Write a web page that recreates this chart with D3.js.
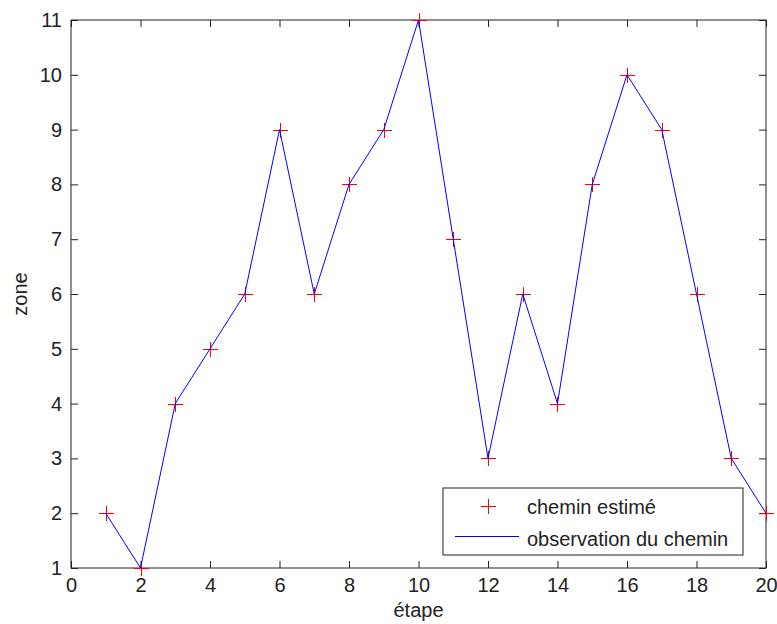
<!DOCTYPE html>
<html><head><meta charset="utf-8">
<script src="https://cdn.jsdelivr.net/npm/d3@7"></script>
<style>body{margin:0;background:#fff}svg{display:block}text{font-family:"Liberation Sans",Arial,sans-serif;fill:#222}</style>
</head><body><svg id="c" width="777" height="624"></svg>
<script>
const steps = [1,2,3,4,5,6,7,8,9,10,11,12,13,14,15,16,17,18,19,20];
const zones = [2,1,4,5,6,9,6,8,9,11,7,3,6,4,8,10,9,6,3,2];
const xTicks = [0,2,4,6,8,10,12,14,16,18,20];
const yTicks = [1,2,3,4,5,6,7,8,9,10,11];
const xLabel = "étape", yLabel = "zone";
const legendLabels = ["chemin estimé","observation du chemin"];

const svg = d3.select("#c");
const L=71,R=766,T=20,B=568;
const x = d3.scaleLinear().domain([0,20]).range([L,R]);
const y = d3.scaleLinear().domain([1,11]).range([B,T]);
const tk=7, fs="20px";
const g = svg.append("g");
g.append("g").attr("transform",`translate(0,${B})`).call(d3.axisBottom(x).tickValues(xTicks).tickSize(-tk).tickPadding(10))
  .call(a=>{a.select(".domain").remove();a.selectAll("text").style("font-size",fs);});
g.append("g").attr("transform",`translate(0,${T})`).call(d3.axisTop(x).tickValues(xTicks).tickSize(-tk).tickFormat(""))
  .call(a=>a.select(".domain").remove());
g.append("g").attr("transform",`translate(${L},0)`).call(d3.axisLeft(y).tickValues(yTicks).tickSize(-tk).tickPadding(9))
  .call(a=>{a.select(".domain").remove();a.selectAll("text").style("font-size",fs);});
g.append("g").attr("transform",`translate(${R},0)`).call(d3.axisRight(y).tickValues(yTicks).tickSize(-tk).tickFormat(""))
  .call(a=>a.select(".domain").remove());
g.selectAll(".tick line").attr("stroke","#222");
g.selectAll(".tick text").attr("fill","#222");
svg.append("rect").attr("x",L).attr("y",T).attr("width",R-L).attr("height",B-T).attr("fill","none").attr("stroke","#222").attr("stroke-width",1);

const plus = (sel,cx,cy,s)=>{cx=Math.round(cx)+0.5;cy=Math.round(cy)+0.5;sel.append("path").attr("d",`M${cx-s},${cy}H${cx+s}M${cx},${cy-s}V${cy+s}`).attr("stroke","#ff0000").attr("stroke-width",1.2).attr("fill","none").attr("shape-rendering","crispEdges");};
const pm = svg.append("g");
zones.forEach((d,i)=>plus(pm,x(steps[i]),y(d),7.5));
const line = d3.line().x((d,i)=>x(steps[i])).y(d=>y(d));
svg.append("path").datum(zones).attr("d",line).attr("fill","none").attr("stroke","#0000ff").attr("stroke-width",1).attr("stroke-linejoin","round");

svg.append("text").attr("x",(L+R)/2).attr("y",617).attr("text-anchor","middle").style("font-size","20px").text(xLabel);
svg.append("text").attr("transform",`translate(27,${(T+B)/2}) rotate(-90)`).attr("text-anchor","middle").style("font-size","20px").text(yLabel);

const lg = svg.append("g");
lg.append("rect").attr("x",443).attr("y",488).attr("width",300).attr("height",67).attr("fill","#fff").attr("stroke","#222");
plus(lg,488,506,7.5);
lg.append("line").attr("x1",455).attr("x2",519).attr("y1",536.5).attr("y2",536.5).attr("stroke","#0000ff");
legendLabels.forEach((t,i)=>lg.append("text").attr("x",527).attr("y",514+i*31.5).style("font-size","20px").text(t));
</script></body></html>
